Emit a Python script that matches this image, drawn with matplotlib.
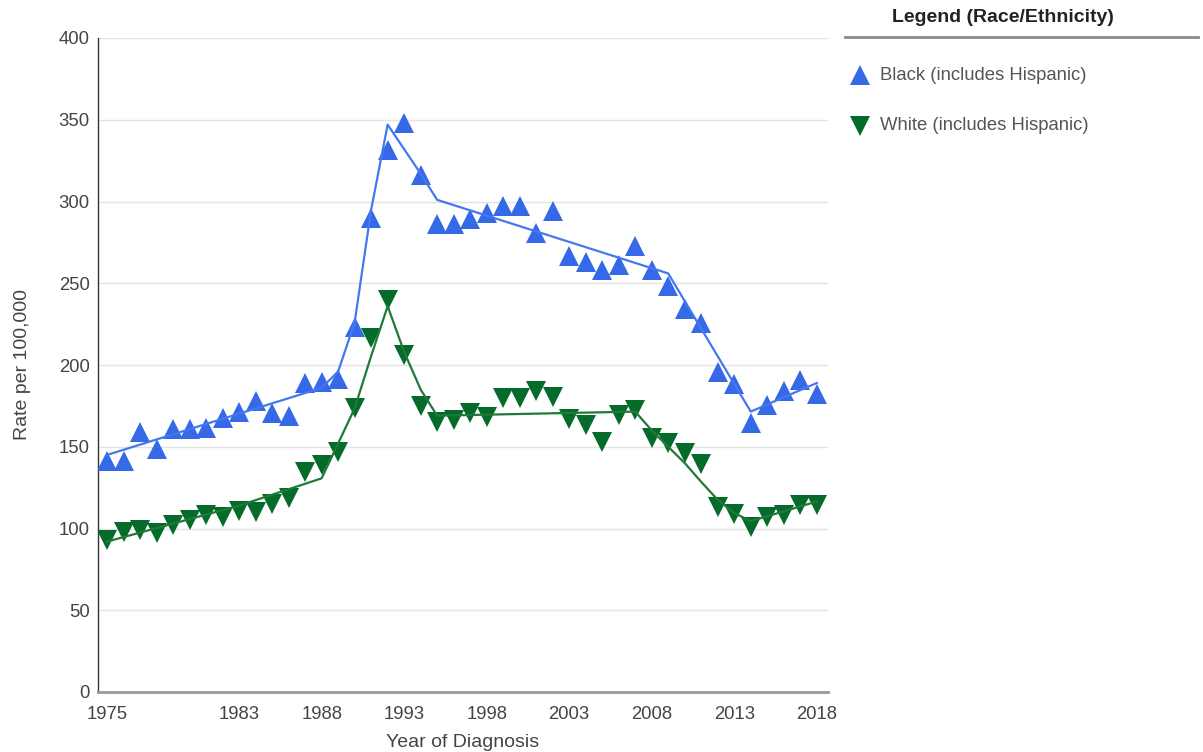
import matplotlib.pyplot as plt
from matplotlib.lines import Line2D

plt.rcParams['font.family'] = ['Liberation Sans', 'DejaVu Sans']

years = list(range(1975, 2019))

black = [141, 141, 159, 148.5, 161, 161, 161.5, 167.5, 171, 178,
         170.5, 169, 189, 189.5, 191.5, 223, 290, 331.5, 348, 316,
         286.5, 286.5, 289, 293, 297.5, 297.5, 281, 294, 266.7, 263,
         258, 261, 272.8, 257.8, 248.5, 234.5, 225.5, 195.5, 188.5, 164.5,
         175.3, 184, 191, 182.5]

white = [93.2, 97.8, 99, 97.4, 102, 105.4, 108, 106.8, 111, 110,
         115, 118.8, 134.7, 138.8, 147, 173.5, 216.3, 239.8, 206, 175,
         165.3, 166.4, 170.8, 168, 180, 180, 184, 180.6, 166.8, 163.3,
         153.1, 169.4, 172.5, 155.2, 152.2, 146.4, 139.4, 113, 108.9, 100.7,
         107.2, 108, 114.4, 114.4]

# joinpoint trend lines
black_trend_years = [1975, 1988, 1989, 1990, 1991, 1992, 1994, 1995, 2009, 2014, 2018]
black_trend = [145, 186, 196, 226, 295, 347, 317, 301, 256, 171.5, 189]

white_trend_years = [1975, 1983, 1988, 1989, 1990, 1991, 1992, 1993, 1994, 1995,
                     2007, 2008, 2009, 2010, 2011, 2012, 2013, 2014, 2018]
white_trend = [92, 114, 130.7, 152, 173.5, 205.5, 236, 208, 185, 169,
               171.5, 160, 150, 140, 128.5, 117.5, 109.5, 104.5, 116.5]

xticks = [1975, 1983, 1988, 1993, 1998, 2003, 2008, 2013, 2018]
yticks = [0, 50, 100, 150, 200, 250, 300, 350, 400]

blue = "#3569E8"
blue_line = "#4378F0"
green = "#046B2A"
green_line = "#1F7A38"
text_col = "#444444"

fig = plt.figure(figsize=(12.03, 7.52), dpi=100)
ax = fig.add_axes([98 / 1203, 1 - 692 / 752, 730 / 1203, 654 / 752])

ax.plot(years, black, linestyle="none", marker="^", markersize=14,
        color=blue, markeredgewidth=0, zorder=3)
ax.plot(years, white, linestyle="none", marker="v", markersize=14,
        color=green, markeredgewidth=0, zorder=3)
ax.plot(black_trend_years, black_trend, color=blue_line, linewidth=1.6, zorder=4)
ax.plot(white_trend_years, white_trend, color=green_line, linewidth=1.6, zorder=4)

ax.set_xlim(1974.45, 2018.68)
ax.set_ylim(0, 400)
ax.set_xticks(xticks)
ax.set_yticks(yticks)
ax.tick_params(length=0, labelsize=13.3, labelcolor=text_col)
ax.tick_params(axis="y", pad=6)
ax.tick_params(axis="x", pad=10)
ax.grid(axis="y", color="#e3e3e3", linewidth=1)
ax.set_axisbelow(True)
for s in ["top", "right"]:
    ax.spines[s].set_visible(False)
ax.spines["left"].set_color("#333333")
ax.spines["left"].set_linewidth(1)
ax.spines["bottom"].set_color("#999999")
ax.spines["bottom"].set_linewidth(2)

ax.set_xlabel("Year of Diagnosis", fontsize=14, color=text_col, labelpad=8)
ax.set_ylabel("Rate per 100,000", fontsize=14, color=text_col, labelpad=20)

# legend panel on the right
fig.text(1003 / 1203, 1 - 17 / 752, "Legend (Race/Ethnicity)", ha="center",
         va="center", fontsize=14, fontweight="bold", color="#222222")
fig.add_artist(Line2D([845 / 1203, 1198 / 1203], [1 - 37 / 752, 1 - 37 / 752],
                      color="#8a8a8a", linewidth=2))
fig.add_artist(Line2D([860 / 1203], [1 - 75 / 752], marker="^", markersize=14,
                      color=blue, markeredgewidth=0, linestyle="none"))
fig.text(880 / 1203, 1 - 75 / 752, "Black (includes Hispanic)", va="center",
         fontsize=13.3, color="#555555")
fig.add_artist(Line2D([860 / 1203], [1 - 126 / 752], marker="v", markersize=14,
                      color=green, markeredgewidth=0, linestyle="none"))
fig.text(880 / 1203, 1 - 126 / 752, "White (includes Hispanic)", va="center",
         fontsize=13.3, color="#555555")

fig.savefig("out.png", dpi=100)
